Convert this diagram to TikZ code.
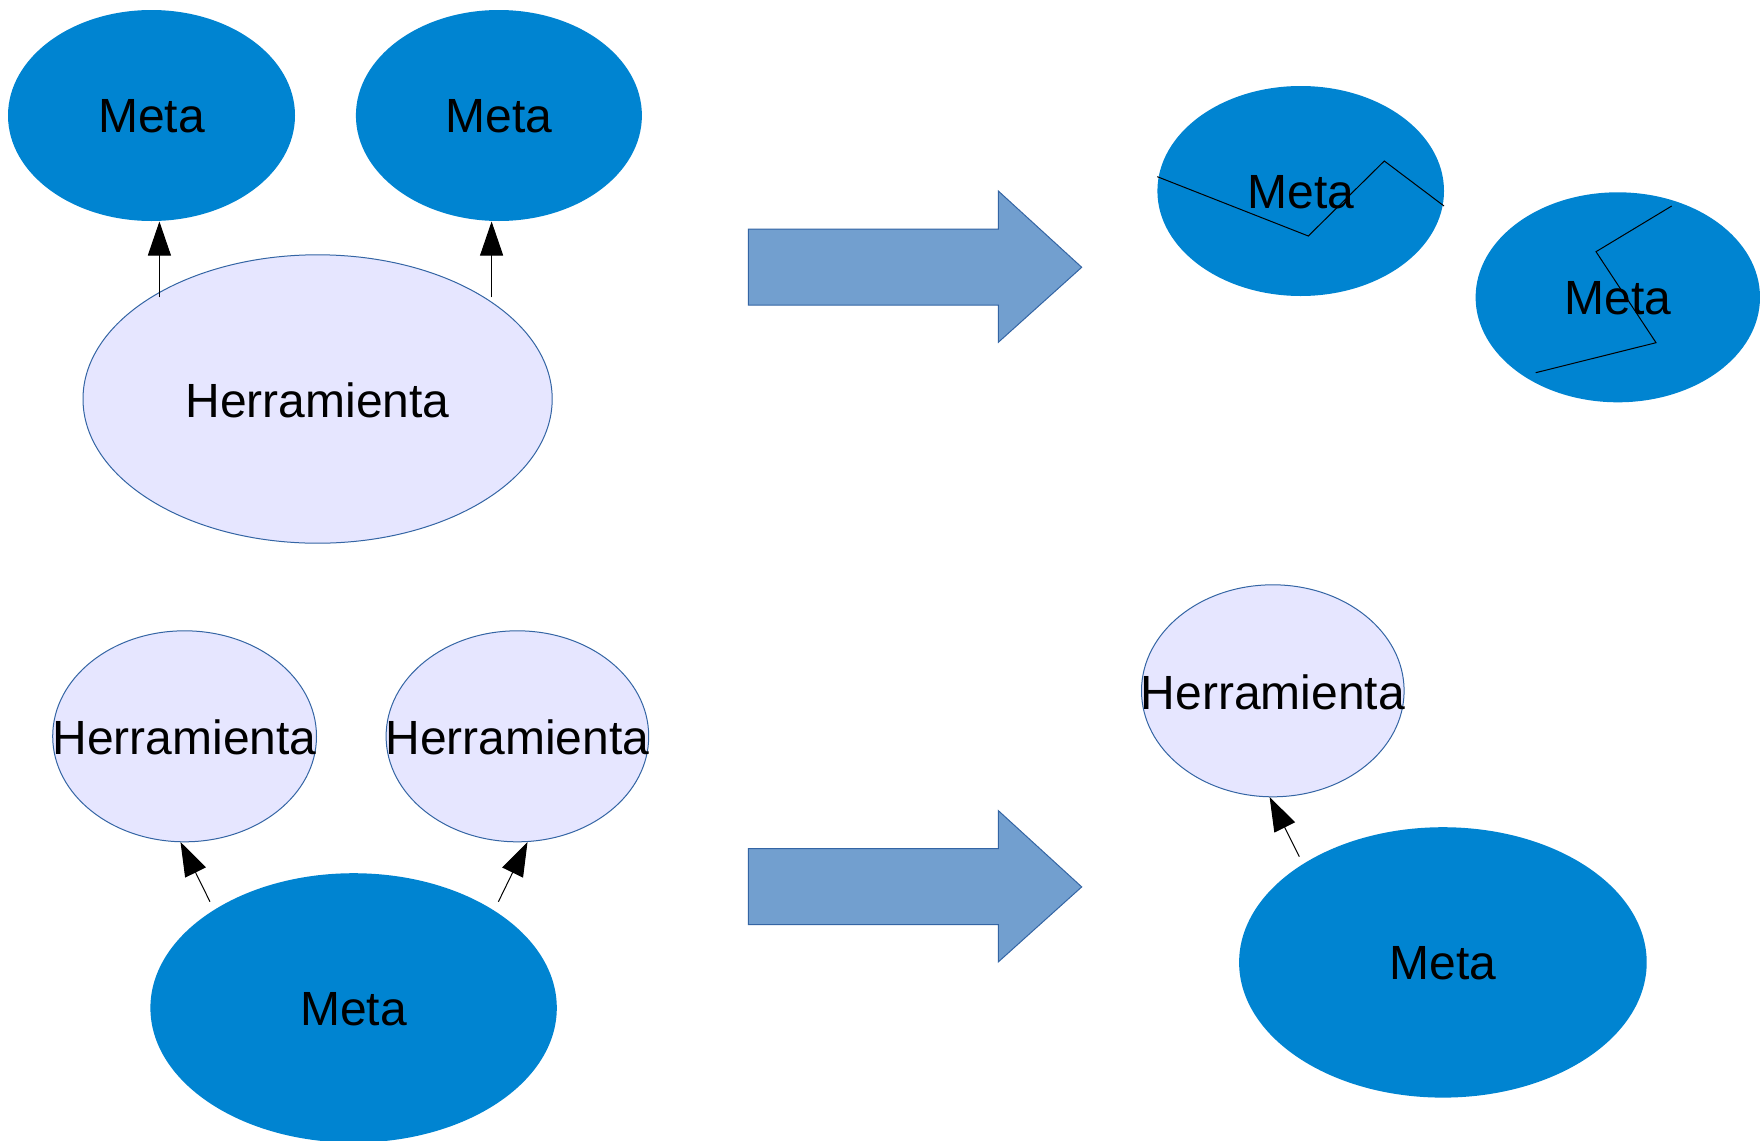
\documentclass[tikz,border=0pt]{standalone}
\usepackage{fontspec}
\setmainfont{Liberation Sans}
\usetikzlibrary{shapes.geometric,arrows.meta}
\definecolor{metablue}{RGB}{0,132,209}
\definecolor{toolfill}{RGB}{230,230,255}
\definecolor{edgeblue}{RGB}{52,101,164}
\definecolor{arrowfill}{RGB}{114,159,207}
\tikzset{
  every label/.style={font=\fontsize{24}{28}\selectfont, inner sep=0pt, text=black, yshift=-0.6pt},
  meta/.style={ellipse, fill=metablue, inner sep=0pt},
  tool/.style={ellipse, fill=toolfill, draw=edgeblue, line width=0.5pt, inner sep=0pt},
  link/.style={line width=0.5pt, -{Triangle[width=11.5pt,length=17pt]}},
  crack/.style={line width=0.5pt, black},
  bigarrow/.style={fill=arrowfill, draw=edgeblue, line width=0.5pt, line join=miter}
}
\begin{document}
\begin{tikzpicture}[x=0.5pt,y=-0.5pt]
\clip (0,0) rectangle (1760,1140);
\fill[white] (0,0) rectangle (1760,1140);

% ---- top left group
\node[meta, minimum width=143.5pt, minimum height=105.5pt, label={center:Meta}] (m1) at (151.5,115.5) {};
\node[meta, minimum width=143pt, minimum height=105.5pt, label={center:Meta}] (m2) at (498.9,115.5) {};
\node[tool, minimum width=234.6pt, minimum height=144.2pt, label={center:Herramienta}] (h0) at (317.6,399) {};
\coordinate (t1) at (159.4,297.4);
\coordinate (p1) at (159.4,221.5);
\coordinate (t2) at (491.6,297.4);
\coordinate (p2) at (491.6,221.5);
\draw[link] (t1) -- (p1);
\draw[link] (t2) -- (p2);

% ---- top big arrow
\draw[bigarrow] (748.3,229) -- (998.3,229) -- (998.3,191) -- (1081.7,267.3)
  -- (998.3,342.3) -- (998.3,305) -- (748.3,305) -- cycle;

% ---- top right broken goals
\node[meta, minimum width=143.3pt, minimum height=105pt, label={center:Meta}] (m3) at (1300.7,191) {};
\draw[crack] (1157.3,176.7) -- (1308.3,236) -- (1384.3,161) -- (1444,206);
\node[meta, minimum width=142.2pt, minimum height=105pt, label={center:Meta}] (m4) at (1617.8,297.3) {};
\draw[crack] (1671.7,206) -- (1596,251.7) -- (1656,342.7) -- (1535.7,372.7);

% ---- bottom left group
\node[tool, minimum width=131.9pt, minimum height=105.5pt, label={center:Herramienta}] (h1) at (184.6,736.3) {};
\node[tool, minimum width=131.3pt, minimum height=105.5pt, label={center:Herramienta}] (h2) at (517.4,736.3) {};
\node[meta, minimum width=203.2pt, minimum height=134.7pt, label={center:Meta}] (m5) at (353.6,1007.9) {};
\coordinate (t3) at (210,901.7);
\coordinate (p3) at (180.5,842);
\coordinate (t4) at (498.4,901.7);
\coordinate (p4) at (527.5,842);
\draw[link] (t3) -- (p3);
\draw[link] (t4) -- (p4);

% ---- bottom big arrow
\draw[bigarrow] (748.3,848.6) -- (998.3,848.6) -- (998.3,810.6) -- (1081.7,886.9)
  -- (998.3,961.9) -- (998.3,924.6) -- (748.3,924.6) -- cycle;

% ---- bottom right group
\node[tool, minimum width=131.3pt, minimum height=106pt, label={center:Herramienta}] (h3) at (1272.8,690.8) {};
\node[meta, minimum width=203.8pt, minimum height=135.2pt, label={center:Meta}] (m6) at (1442.9,962.4) {};
\coordinate (t5) at (1299.3,856.7);
\coordinate (p5) at (1269.6,797);
\draw[link] (t5) -- (p5);
\end{tikzpicture}
\end{document}
